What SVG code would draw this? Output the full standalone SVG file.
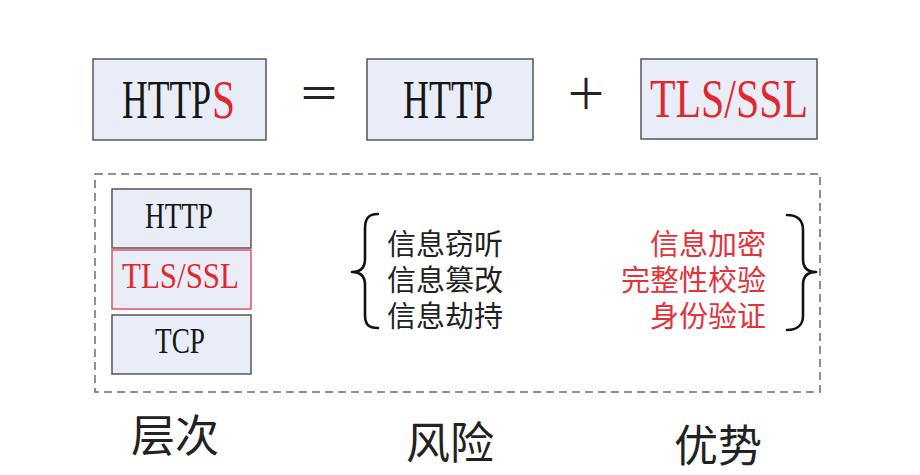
<svg xmlns="http://www.w3.org/2000/svg" width="920" height="475" viewBox="0 0 920 475">
<style>
.box{fill:#e9edf8;stroke:#555555;stroke-width:1.5}
.boxr{fill:#e9edf8;stroke:#e8505e;stroke-width:1.5}
.ser{font-family:"Liberation Serif","Times New Roman",serif;fill:#161616}
.red{fill:#e0282f}
.cjk{font-family:"Noto Sans CJK SC","Noto Sans",sans-serif;fill:#222}
.cjkr{font-family:"Noto Sans CJK SC","Noto Sans",sans-serif;fill:#e3323a}
.brace{fill:none;stroke:#111;stroke-width:2.6;stroke-linecap:round;stroke-linejoin:round}
</style>
<rect width="920" height="475" fill="#ffffff"/>

<g id="https">
<rect class="box" x="93" y="59" width="173" height="81"/>
<text class="ser" x="122" y="118" font-size="54" textLength="89" lengthAdjust="spacingAndGlyphs">HTTP</text>
<text class="ser red" x="212" y="118" font-size="54" textLength="23" lengthAdjust="spacingAndGlyphs">S</text>
</g>
<g id="equals">
<text class="cjk" x="319" y="109" font-size="42" text-anchor="middle">＝</text>
</g>
<g id="http">
<rect class="box" x="367" y="59" width="166" height="81"/>
<text class="ser" x="403" y="118" font-size="54" textLength="90" lengthAdjust="spacingAndGlyphs">HTTP</text>
</g>
<g id="plus">
<text class="cjk" x="586" y="109" font-size="42" text-anchor="middle">＋</text>
</g>
<g id="tls">
<rect class="box" x="641" y="59" width="176" height="80"/>
<text class="ser red" x="650" y="117" font-size="54" textLength="158" lengthAdjust="spacingAndGlyphs">TLS/SSL</text>
</g>

<g id="frame">
<rect x="95" y="174" width="725" height="218" fill="none" stroke="#6b6b6b" stroke-width="1.5" stroke-dasharray="8,5"/>
</g>

<g id="layer-http">
<rect class="box" x="112" y="189" width="139" height="59"/>
<text class="ser" x="145" y="228" font-size="35" textLength="68" lengthAdjust="spacingAndGlyphs">HTTP</text>
</g>
<g id="layer-tls">
<rect class="boxr" x="112" y="250" width="139" height="59"/>
<text class="ser red" x="122" y="288" font-size="35" textLength="117" lengthAdjust="spacingAndGlyphs">TLS/SSL</text>
</g>
<g id="layer-tcp">
<rect class="box" x="112" y="315" width="139" height="59"/>
<text class="ser" x="155" y="353" font-size="35" textLength="50" lengthAdjust="spacingAndGlyphs">TCP</text>
</g>

<g id="connectors">
<path class="brace" d="M378 214 C368 214 365 219 365 229 L365 259 C365 267 361 272 352 272 C361 272 365 277 365 285 L365 315 C365 324 368 328 378 328"/>
<path class="brace" d="M787 215 C797 215 803 220 803 230 L803 259 C803 267 807 272 816 272 C807 272 803 277 803 285 L803 316 C803 325 797 330 787 330"/>
</g>

<g id="risks">
<text class="cjk" x="387" y="255" font-size="29">信息窃听</text>
<text class="cjk" x="387" y="291" font-size="29">信息篡改</text>
<text class="cjk" x="387" y="327" font-size="29">信息劫持</text>
</g>
<g id="advantages">
<text class="cjkr" x="766" y="255" font-size="29" text-anchor="end">信息加密</text>
<text class="cjkr" x="766" y="291" font-size="29" text-anchor="end">完整性校验</text>
<text class="cjkr" x="766" y="327" font-size="29" text-anchor="end">身份验证</text>
</g>

<g id="labels">
<text class="cjk" x="131" y="452" font-size="44" fill="#111">层次</text>
<text class="cjk" x="406" y="459" font-size="44" fill="#111">风险</text>
<text class="cjk" x="674" y="462" font-size="44" fill="#111">优势</text>
</g>
</svg>
